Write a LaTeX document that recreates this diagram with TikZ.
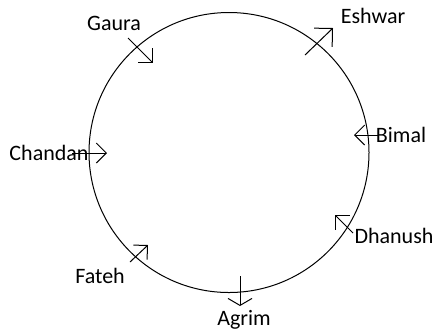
\documentclass[tikz,border=0pt]{standalone}
\usepackage{fontspec}
\setmainfont{Carlito}
\usetikzlibrary{arrows.meta}

\begin{document}
\begin{tikzpicture}[x=0.5pt, y=-0.5pt, >={Straight Barb[length=5pt, width=10pt]},
                    every node/.style={font=\fontsize{11}{13}\selectfont},
                    seat/.style={->, line width=0.5pt}]
  \useasboundingbox (0,0) rectangle (438,334);
  \draw[line width=0.5pt] (229,152.5) circle (70pt);
  % names round the table
  \node (gaura)   at (114,23)  {Gaura};
  \node (eshwar)  at (373,16)  {Eshwar};
  \node (chandan) at (49,153)  {Chandan};
  \node (bimal)   at (401,135) {Bimal};
  \node (dhanush) at (394,236) {Dhanush};
  \node (fateh)   at (100,276) {Fateh};
  \node (agrim)   at (244,320) {Agrim};
  % facing directions
  \coordinate (g1) at (128,38);  \coordinate (g2) at (153,63);
  \coordinate (e1) at (305,55);  \coordinate (e2) at (333,28);
  \coordinate (c1) at (72,153);  \coordinate (c2) at (107,153);
  \coordinate (b1) at (378,135); \coordinate (b2) at (354,135);
  \coordinate (d1) at (353,233); \coordinate (d2) at (335,215);
  \coordinate (f1) at (130,262); \coordinate (f2) at (148,245);
  \coordinate (a1) at (240,276); \coordinate (a2) at (240,306);
  \draw[seat] (g1) -- (g2);
  \draw[seat, >={Straight Barb[length=6.5pt, width=13pt]}] (e1) -- (e2);
  \draw[seat] (c1) -- (c2);
  \draw[seat] (b1) -- (b2);
  \draw[seat] (d1) -- (d2);
  \draw[seat] (f1) -- (f2);
  \draw[seat, >={Straight Barb[length=3.5pt, width=12pt]}] (a1) -- (a2);
\end{tikzpicture}
\end{document}
